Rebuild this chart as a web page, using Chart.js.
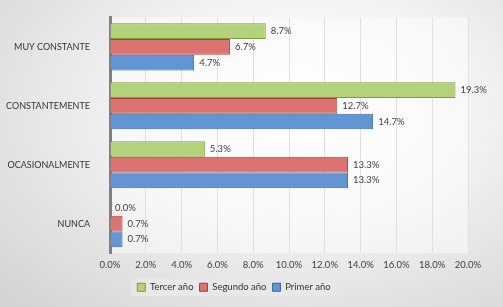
<!DOCTYPE html>
<html lang="es">
<head>
    <meta charset="UTF-8">
    <title>Frecuencia por año</title>
    <script src="https://cdn.jsdelivr.net/npm/chart.js"></script>
    <style>
        html, body { margin: 0; padding: 0; }
        body {
            width: 503px; height: 307px; overflow: hidden;
            background: radial-gradient(ellipse at 60% 35%, #ffffff 0%, #f3f3f3 40%, #d2d2d2 100%);
        }
        .chart-container { position: relative; width: 503px; height: 307px; }
    </style>
</head>
<body>

<div class="chart-container">
    <canvas id="freqChart" width="503" height="307"></canvas>
</div>

<script>
    // data
    const categories = ['MUY CONSTANTE', 'CONSTANTEMENTE', 'OCASIONALMENTE', 'NUNCA'];
    const tercerAno = [8.7, 19.3, 5.3, 0.0];
    const segundoAno = [6.7, 12.7, 13.3, 0.7];
    const primerAno = [4.7, 14.7, 13.3, 0.7];
    const xTicks = [0, 2, 4, 6, 8, 10, 12, 14, 16, 18, 20];

    const FONT = 'Lato, "Liberation Sans", sans-serif';

    // label at the end of every bar
    const valueLabels = {
        id: 'valueLabels',
        afterDatasetsDraw(chart) {
            const ctx = chart.ctx;
            ctx.save();
            ctx.font = '9.5px ' + FONT;
            ctx.fillStyle = '#404040';
            ctx.textBaseline = 'middle';
            ctx.textAlign = 'left';
            chart.data.datasets.forEach((ds, i) => {
                chart.getDatasetMeta(i).data.forEach((bar, j) => {
                    ctx.fillText(ds.data[j].toFixed(1) + '%', bar.x + 5, bar.y);
                });
            });
            ctx.restore();
        }
    };

    // light plot area and legend box
    const backdrop = {
        id: 'backdrop',
        beforeDraw(chart) {
            const ctx = chart.ctx;
            const a = chart.chartArea;
            ctx.save();
            ctx.fillStyle = 'rgba(255,255,255,0.45)';
            ctx.fillRect(a.left, a.top, a.right - a.left, a.bottom - a.top);
            const boxes = chart.legend.legendHitBoxes || [];
            if (boxes.length) {
                const first = boxes[0], last = boxes[boxes.length - 1];
                const x0 = first.left - 6, x1 = last.left + last.width + 6;
                ctx.fillStyle = 'rgba(232,232,232,0.95)';
                ctx.fillRect(x0, first.top - 4, x1 - x0, first.height + 8);
            }
            ctx.restore();
        }
    };

    const ctx = document.getElementById('freqChart').getContext('2d');
    new Chart(ctx, {
        type: 'bar',
        data: {
            labels: categories,
            datasets: [
                { label: 'Tercer año', data: tercerAno, backgroundColor: '#b3d27a', borderColor: '#7d9a45' },
                { label: 'Segundo año', data: segundoAno, backgroundColor: '#db7370', borderColor: '#a4403d' },
                { label: 'Primer año', data: primerAno, backgroundColor: '#6394d3', borderColor: '#3d6aa3' }
            ]
        },
        options: {
            indexAxis: 'y',
            responsive: false,
            animation: false,
            devicePixelRatio: 1,
            layout: { padding: { top: 15, right: 35, bottom: 5, left: 0 } },
            datasets: {
                bar: { borderWidth: 1, categoryPercentage: 0.8, barPercentage: 1.0 }
            },
            scales: {
                x: {
                    min: 0,
                    max: 20,
                    afterBuildTicks(scale) { scale.ticks = xTicks.map(v => ({ value: v })); },
                    ticks: {
                        callback: v => v.toFixed(1) + '%',
                        color: '#404040',
                        font: { family: FONT, size: 9.5 },
                        padding: 6,
                        maxRotation: 0
                    },
                    grid: { color: '#e0e0e0', drawTicks: false },
                    border: { display: false }
                },
                y: {
                    afterFit(scale) { scale.width = 110; },
                    ticks: {
                        color: '#333333',
                        font: { family: FONT, size: 9 },
                        padding: 12
                    },
                    grid: { display: false },
                    border: { display: true, color: '#808080', width: 3 }
                }
            },
            plugins: {
                legend: {
                    position: 'bottom',
                    labels: {
                        boxWidth: 8,
                        boxHeight: 8,
                        padding: 6,
                        color: '#333333',
                        font: { family: FONT, size: 9.5 }
                    }
                },
                tooltip: { enabled: false }
            }
        },
        plugins: [valueLabels, backdrop]
    });
</script>

</body>
</html>
